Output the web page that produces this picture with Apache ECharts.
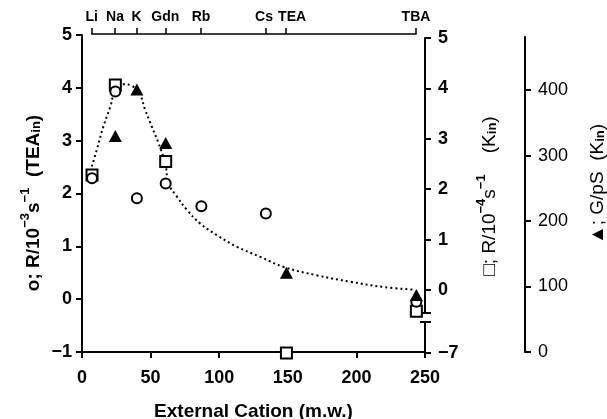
<!DOCTYPE html>
<html>
<head>
<meta charset="utf-8">
<script src="https://cdn.jsdelivr.net/npm/echarts@6.0.0/dist/echarts.min.js"></script>
<style>html,body{margin:0;padding:0;background:#fff}#c{width:607px;height:419px}</style>
</head>
<body>
<div id="c"></div>
<script>
// ---- data ----
const cationNames = ['Li', 'Na', 'K', 'Gdn', 'Rb', 'Cs', 'TEA', 'TBA'];
const cationMW    = [7.3, 24.3, 40, 61, 87, 134, 149, 243.7];
// circles: R/10^-3 s^-1 (TEA_in)  (left axis)
const circleVals   = [2.29, 3.93, 1.91, 2.19, 1.76, 1.62, null, -0.05];
// squares: R/10^-4 s^-1 (K_in)  (right axis, broken; -7 drawn on lower segment)
const squareVals   = [2.28, 4.07, null, 2.55, null, null, null, -0.42];
const squareLowVals= [null, null, null, null, null, null, -7, null];
// triangles: G/pS (K_in)  (far-right axis)
const triangleVals = [null, 330, 401, 319, null, null, 121, 87];
const curveX = [7.1, 10.7, 15.5, 20.6, 24.3, 30.3, 35.2, 41.3, 46.1, 51.0, 55.8, 60.7, 63.1, 69.2, 76.5, 86.2, 98.4, 113, 130, 146.9, 171.3, 195.6, 219.8, 241.7];
const curveY = [2.51, 2.82, 3.26, 3.64, 3.96, 4.07, 4.05, 3.93, 3.58, 3.26, 2.95, 2.57, 2.19, 1.94, 1.69, 1.43, 1.21, 0.99, 0.80, 0.61, 0.45, 0.33, 0.23, 0.18];
const leftTicks   = [-1, 0, 1, 2, 3, 4, 5];
const rightTicks  = [0, 1, 2, 3, 4, 5];
const rightLowTicks = [-7];
const gTicks      = [0, 100, 200, 300, 400];
const xTicks      = [0, 50, 100, 150, 200, 250];

const FONT = 'Liberation Sans, Arial, sans-serif';
const pairs = (xs, ys) => xs.map((x, i) => [x, ys[i]]).filter(p => p[1] !== null && p[1] !== undefined);
const minus = v => (v < 0 ? '\u2212' + (-v) : String(v));
const lbl = () => ({color: '#000', fontFamily: FONT, fontSize: 18, fontWeight: 'bold'});
const axLine = () => ({show: true, onZero: false, lineStyle: {color: '#000', width: 2}});
const noLine = () => ({show: false, onZero: false});
const tick = (extra) => Object.assign({show: true, length: 6, lineStyle: {width: 2, color: '#000'}}, extra || {});

const R1_MIN = -0.456, R2_MAX = -6.385;
const G = (o) => Object.assign({outerBoundsMode: 'none'}, o);

const chart = echarts.init(document.getElementById('c'), null, {renderer: 'canvas'});
const option = {
  backgroundColor: '#fff',
  animation: false,
  grid: [
    G({left: 82, right: 182, top: 35, bottom: 67}),    // 0 main (labels + data)
    G({left: 82, right: 182, top: 38, bottom: 106}),   // 1 right upper segment
    G({left: 82, right: 182, top: 322, bottom: 66}),   // 2 right lower segment
    G({left: 82, right: 182, top: 37, bottom: 67}),    // 3 conductance
    G({left: 91.7, right: 191, top: 34, bottom: 67}),  // 4 cation axis
    G({left: 82, right: 182, top: 35, bottom: 67})     // 5 bottom axis line
  ],
  xAxis: [
    {gridIndex: 0, type: 'value', position: 'bottom', min: 0, max: 250, interval: 50,
     axisLine: noLine(), axisTick: {show: false},
     axisLabel: Object.assign(lbl(), {margin: 17, customValues: xTicks}), splitLine: {show: false},
     name: 'External Cation (m.w.)', nameLocation: 'middle', nameGap: 50,
     nameTextStyle: {color: '#000', fontFamily: FONT, fontSize: 19, fontWeight: 'bold'}},
    {gridIndex: 1, type: 'value', min: 0, max: 250, show: false, axisLine: noLine()},
    {gridIndex: 2, type: 'value', min: 0, max: 250, show: false, axisLine: noLine()},
    {gridIndex: 3, type: 'value', min: 0, max: 250, show: false, axisLine: noLine()},
    {gridIndex: 4, type: 'value', min: cationMW[0], max: cationMW[cationMW.length - 1], position: 'top',
     axisLine: {show: true, onZero: false, lineStyle: {color: '#000', width: 1.5}},
     axisTick: {show: true, length: 6, customValues: cationMW, lineStyle: {width: 1.5, color: '#000'}},
     axisLabel: {color: '#000', fontFamily: FONT, fontWeight: 'bold', fontSize: 14, margin: 10, customValues: cationMW,
       formatter: v => {
         const i = cationMW.findIndex(m => Math.abs(m - v) < 0.01);
         if (i < 0) return '';
         const n = cationNames[i];
         if (n === 'TEA') return '{r|' + n + '}';
         if (n === 'Cs') return '{l|' + n + '}';
         return n;
       },
       rich: {r: {fontFamily: FONT, fontSize: 14, fontWeight: 'bold', padding: [0, 0, 0, 12]},
              l: {fontFamily: FONT, fontSize: 14, fontWeight: 'bold', padding: [0, 3, 0, 0]}}},
     splitLine: {show: false}},
    {gridIndex: 5, type: 'value', position: 'bottom', min: 0, max: 250, interval: 50,
     axisLine: axLine(), axisTick: tick(),
     axisLabel: {show: false}, splitLine: {show: false}}
  ],
  yAxis: [
    {gridIndex: 0, type: 'value', position: 'left', min: -1, max: 5, interval: 1,
     axisLine: axLine(), axisTick: tick(),
     axisLabel: Object.assign(lbl(), {margin: 10, formatter: minus, customValues: leftTicks}), splitLine: {show: false}},
    {gridIndex: 1, type: 'value', position: 'right', min: R1_MIN, max: 5,
     axisLine: axLine(), axisTick: tick({customValues: [R1_MIN].concat(rightTicks)}),
     axisLabel: Object.assign(lbl(), {margin: 13, customValues: rightTicks, formatter: minus}), splitLine: {show: false}},
    {gridIndex: 1, type: 'value', position: 'right', min: R1_MIN, max: 5,
     axisLine: noLine(), axisLabel: {show: false}, splitLine: {show: false},
     axisTick: tick({inside: true, length: 5, customValues: [R1_MIN]})},
    {gridIndex: 2, type: 'value', position: 'right', min: -7, max: R2_MAX,
     axisLine: axLine(), axisTick: tick({customValues: [-7, R2_MAX]}),
     axisLabel: Object.assign(lbl(), {margin: 13, customValues: rightLowTicks, formatter: minus}), splitLine: {show: false}},
    {gridIndex: 2, type: 'value', position: 'right', min: -7, max: R2_MAX,
     axisLine: noLine(), axisLabel: {show: false}, splitLine: {show: false},
     axisTick: tick({inside: true, length: 5, customValues: [R2_MAX]})},
    {gridIndex: 3, type: 'value', position: 'right', offset: 100, min: 0, max: 481,
     axisLine: axLine(), axisTick: tick({customValues: gTicks}),
     axisLabel: Object.assign(lbl(), {fontWeight: 'normal', fontSize: 18, margin: 13, customValues: gTicks}), splitLine: {show: false}},
    {gridIndex: 4, type: 'value', show: false, axisLine: noLine()},
    {gridIndex: 5, type: 'value', show: false, min: -1, max: 5, axisLine: noLine()}
  ],
  series: [
    {type: 'line', xAxisIndex: 0, yAxisIndex: 0, data: pairs(curveX, curveY), smooth: 0.4,
     showSymbol: false, symbol: 'none', lineStyle: {color: '#000', width: 2, type: [2, 3]}, z: 1},
    {type: 'scatter', xAxisIndex: 1, yAxisIndex: 1, data: pairs(cationMW, squareVals), symbol: 'rect', symbolSize: 11,
     itemStyle: {color: '#fff', borderColor: '#000', borderWidth: 2, opacity: 1}, z: 3},
    {type: 'scatter', xAxisIndex: 2, yAxisIndex: 3, data: pairs(cationMW, squareLowVals), symbol: 'rect', symbolSize: 11,
     itemStyle: {color: '#fff', borderColor: '#000', borderWidth: 2, opacity: 1}, z: 3},
    {type: 'scatter', xAxisIndex: 0, yAxisIndex: 0, data: pairs(cationMW, circleVals), symbol: 'circle', symbolSize: 10,
     itemStyle: {color: '#fff', borderColor: '#000', borderWidth: 2, opacity: 1}, z: 4},
    {type: 'scatter', xAxisIndex: 3, yAxisIndex: 5, data: pairs(cationMW, triangleVals), symbol: 'triangle', symbolSize: [13, 12],
     itemStyle: {color: '#000', opacity: 1}, z: 5}
  ],
  graphic: [
    {type: 'text', x: 31, y: 203, rotation: Math.PI / 2,
     style: {text: '{b|o; R/10}{s|\u22123}{b|s}{s|\u22121}{b|  (TEA}{sub|in}{b|)}', align: 'center', verticalAlign: 'middle', fill: '#000',
       rich: {b: {fontFamily: FONT, fontSize: 19, fontWeight: 'bold', lineHeight: 24, verticalAlign: 'bottom'},
              s: {fontFamily: FONT, fontSize: 13, fontWeight: 'bold', lineHeight: 11, verticalAlign: 'top'},
              sub: {fontFamily: FONT, fontSize: 13, fontWeight: 'bold', lineHeight: 11, verticalAlign: 'bottom'}}}},
    {type: 'text', x: 487, y: 196, rotation: Math.PI / 2,
     style: {text: '{b|\u25A1; R/10}{s|\u22124}{b|s}{s|\u22121}{b|    (K}{sub|in}{b|)}', align: 'center', verticalAlign: 'middle', fill: '#000',
       rich: {b: {fontFamily: FONT, fontSize: 19, fontWeight: 'normal', lineHeight: 24, verticalAlign: 'bottom'},
              s: {fontFamily: FONT, fontSize: 13, fontWeight: 'bold', lineHeight: 11, verticalAlign: 'top'},
              sub: {fontFamily: FONT, fontSize: 13, fontWeight: 'bold', lineHeight: 11, verticalAlign: 'bottom'}}}},
    {type: 'text', x: 595, y: 184, rotation: Math.PI / 2,
     style: {text: '{b|\u25B2; G/pS  (K}{sub|in}{b|)}', align: 'center', verticalAlign: 'middle', fill: '#000',
       rich: {b: {fontFamily: FONT, fontSize: 19, fontWeight: 'normal', lineHeight: 24, verticalAlign: 'bottom'},
              sub: {fontFamily: FONT, fontSize: 13, fontWeight: 'bold', lineHeight: 11, verticalAlign: 'bottom'}}}}
  ]
};
chart.setOption(option);
</script>
</body>
</html>
